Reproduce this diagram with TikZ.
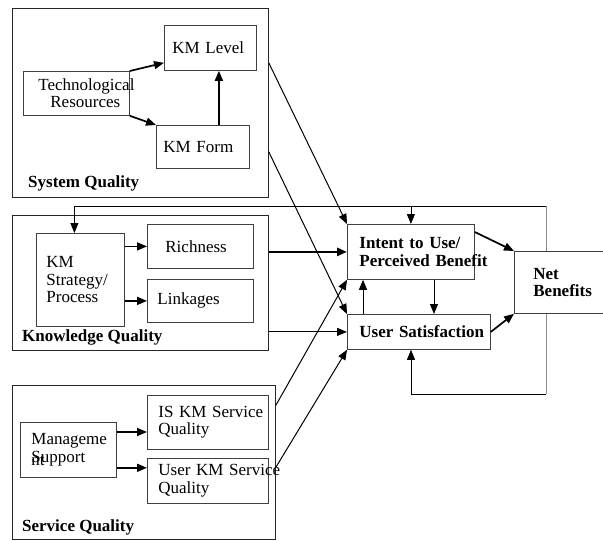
\documentclass[tikz,border=0pt]{standalone}
\usepackage{fontspec}
\setmainfont{Liberation Serif}
\usetikzlibrary{arrows.meta}
\hyphenpenalty=10000

\begin{document}
\begin{tikzpicture}[x=1pt,y=-1pt,
  every node/.style={font=\fontsize{17pt}{17.5pt}\selectfont},
  panel/.style={draw=black!85,line width=0.8pt,anchor=north west,inner sep=0pt},
  box/.style={draw=black!75,line width=0.8pt,fill=white,anchor=north west,align=left,inner ysep=1pt},
  head/.style={font=\fontsize{17pt}{17.5pt}\selectfont\bfseries},
  arr/.style={-{Triangle[length=10pt,width=8pt]},line width=1pt},
  thickarr/.style={arr,line width=1.7pt},
  heavyarr/.style={arr,line width=2.6pt},
  fbline/.style={line width=0.8pt}]
\useasboundingbox (0,0) rectangle (603,541);
\clip (0,0) rectangle (603,541);
\coordinate (fbtop) at (546,206);
\coordinate (fbbot) at (546,394);
\coordinate (fbjoin) at (411,394);
\draw[fbline,draw=black!45] (fbtop) -- (fbbot);

\node[panel,minimum width=256pt,minimum height=189pt] (sysq) at (12,8) {};
\node[panel,minimum width=256pt,minimum height=135pt] (knowq) at (12,215) {};
\node[panel,minimum width=263pt,minimum height=154pt] (servq) at (12,385) {};
\node[head,anchor=west,inner sep=0pt] (sysqlabel) at (28,183) {System Quality};
\node[head,anchor=west,inner sep=0pt] (knowqlabel) at (22,337) {Knowledge Quality};
\node[head,anchor=west,inner sep=0pt] (servqlabel) at (22,527) {Service Quality};

\node[box,text width=76pt,inner xsep=8pt,minimum height=45pt] (klevel) at (164,25) {KM Level};
\node[box,text width=76pt,inner xsep=15pt,minimum height=44pt] (tech) at (23,71) {\mbox{Technological}\\\hspace*{12pt}Resources};
\node[box,text width=79pt,inner xsep=7pt,minimum height=43pt] (kform) at (156,125) {KM Form};
\node[box,text width=68pt,inner xsep=10pt,minimum height=93pt] (strat) at (36,233) {KM\\Strategy/\\Process\\[8pt]};
\node[box,text width=70pt,inner xsep=18pt,minimum height=44pt] (rich) at (147,224) {Richness};
\node[box,text width=86pt,inner xsep=10pt,minimum height=43pt] (link) at (147,279) {Linkages};
\node[box,text width=74pt,inner xsep=11pt,minimum height=55pt] (mgmt) at (20,422) {\mbox{Manageme}\\\leavevmode\rlap{\raisebox{-3pt}{nt}}Support};
\node[box,text width=99pt,inner xsep=11pt,minimum height=54pt] (iskm) at (147,395) {\mbox{IS KM Service}\\Quality};
\node[box,text width=99pt,inner xsep=11pt,minimum height=45pt] (ukm) at (147,458) {\mbox{User KM Service}\\Quality};
\node[box,head,text width=103pt,inner xsep=12pt,minimum height=55pt] (intent) at (347,224) {Intent to Use/\\\mbox{Perceived Benefit}};
\node[box,head,text width=119pt,inner xsep=12pt,minimum height=35pt] (usat) at (347,314) {\mbox{User Satisfaction}};
\node[box,head,text width=62pt,inner xsep=19pt,minimum height=62pt] (net) at (514,251) {Net\\Benefits};

\draw[thickarr] (tech.north east) -- ([yshift=8pt]klevel.south west);
\draw[thickarr] (tech.south east) -- (kform.north west);
\draw[thickarr] ([xshift=16pt]kform.north) -- ([xshift=16pt]kform.north |- klevel.south);
\draw[thickarr] (strat.east |- rich.west) -- (rich.west);
\draw[thickarr] (strat.east |- link.west) -- (link.west);
\draw[thickarr] ([yshift=-10pt]mgmt.north east) -- ([yshift=-10pt]mgmt.north east -| iskm.west);
\draw[thickarr] ([yshift=10pt]mgmt.south east) -- ([yshift=10pt]mgmt.south east -| ukm.west);

\draw[arr] ([yshift=40pt]sysq.east) -- (intent.north west);
\draw[arr] ([yshift=-49pt]sysq.east) -- (usat.north west);
\draw[heavyarr] (intent.west -| knowq.east) -- (intent.west);
\draw[arr] (usat.west -| knowq.east) -- (usat.west);
\draw[arr] ([yshift=57pt]servq.east) -- (intent.south west);
\draw[arr] ([yshift=-5pt]servq.east) -- (usat.south west);

\draw[thickarr] ([yshift=-8pt]intent.north east) -- (net.north west);
\draw[thickarr] (usat.east) -- (net.south west);
\draw[arr] ([xshift=87pt]intent.south west) -- ([xshift=87pt]intent.south west |- usat.north);
\draw[arr] ([xshift=16pt]usat.north west) -- ([xshift=16pt]usat.north west |- intent.south);

\draw[arr,fbline] (fbtop) -| ([xshift=-6pt]strat.north);
\draw[arr,fbline] (intent.north |- fbtop) -- (intent.north);
\draw[arr,fbline] (fbbot) -- (fbjoin) -- (fbjoin |- usat.south);
\end{tikzpicture}
\end{document}
